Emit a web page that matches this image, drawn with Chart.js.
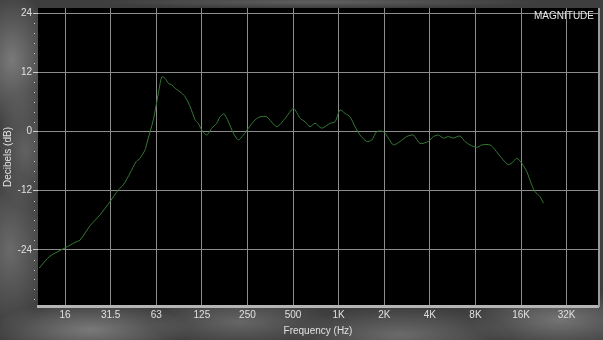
<!DOCTYPE html>
<html>
<head>
<meta charset="utf-8">
<script src="https://cdn.jsdelivr.net/npm/chart.js@4"></script>
<style>
  html, body { margin: 0; padding: 0; }
  body {
    width: 603px; height: 340px; overflow: hidden;
    background:
      radial-gradient(ellipse 40px 70px at 12px 60px, rgba(170,170,170,.55), transparent),
      radial-gradient(ellipse 30px 60px at 25px 150px, rgba(140,140,140,.45), transparent),
      radial-gradient(ellipse 40px 80px at 10px 250px, rgba(150,150,150,.5), transparent),
      radial-gradient(ellipse 100px 28px at 90px 330px, rgba(180,180,180,.5), transparent),
      radial-gradient(ellipse 90px 25px at 240px 322px, rgba(150,150,150,.45), transparent),
      radial-gradient(ellipse 110px 28px at 400px 335px, rgba(160,160,160,.45), transparent),
      radial-gradient(ellipse 90px 30px at 560px 320px, rgba(170,170,170,.5), transparent),
      radial-gradient(ellipse 220px 6px at 320px 2px, rgba(130,130,130,.5), transparent),
      #3e3e3e;
  }
</style>
</head>
<body>
<canvas id="response" width="603" height="340"></canvas>
<script>
// frequency response
const freqs = [10.8, 12.7, 16, 18.6, 20.1, 23.4, 27.2, 31.7, 36, 38.8, 43, 47.1, 50, 54, 55.4, 61.2,
  66.1, 69.6, 73.2, 76.9, 81, 85.2, 91.9, 99.2, 107, 115.5, 121, 127.8, 137.9, 148.7, 160.5, 168.8,
  179.4, 191.5, 206.6, 222.9, 240.6, 259.6, 287.5, 310, 343, 400, 454, 515, 570, 615, 663, 715, 792,
  899, 969, 1046, 1129, 1218, 1314, 1418, 1570, 1694, 1828, 2020, 2180, 2353, 2604, 2882, 3187, 3529,
  4003, 4323, 4662, 5031, 5428, 5853, 6481, 6992, 7548, 8357, 9011, 10226, 11035, 12220, 13507,
  14575, 15352, 16555, 17860, 19279, 20267, 21871, 23000];
const magnitude = [-27.7, -25.3, -23.6, -22.5, -22.0, -19.1, -16.9, -14.2, -11.8, -10.8, -8.4, -6.1,
  -5.4, -3.7, -2.4, 2.4, 7.8, 11.1, 10.8, 9.8, 9.5, 8.8, 8.1, 7.1, 5.1, 2.4, 1.7, 0.3, -0.7, 0.7, 1.7,
  3.0, 3.6, 2.0, -0.3, -1.7, -0.7, 0.7, 2.4, 3.0, 3.0, 1.0, 2.7, 4.7, 2.7, 2.0, 1.0, 1.7, 0.7, 1.7,
  2.0, 4.4, 3.7, 3.0, 1.0, -0.7, -2.0, -1.7, 0, 0, -1.3, -2.7, -2.0, -1.0, -0.7, -2.4, -2.0, -1.0,
  -0.7, -1.3, -1.0, -1.3, -0.9, -2.0, -2.7, -3.2, -2.7, -2.7, -3.7, -5.4, -6.7, -6.1, -5.4, -6.4,
  -8.1, -10.8, -12.2, -13.2, -14.5];

const freqTicks = [16, 32, 64, 128, 256, 512, 1024, 2048, 4096, 8192, 16384, 32768];
const freqLabels = ['16', '31.5', '63', '125', '250', '500', '1K', '2K', '4K', '8K', '16K', '32K'];
const dbTicks = [-24, -12, 0, 12, 24];

const FONT = 'Liberation Sans, Arial, sans-serif';

// black plot area, right border, minor dB marks and the corner caption
const frame = {
  id: 'frame',
  beforeDraw(chart) {
    const {ctx, chartArea: a} = chart;
    ctx.save();
    ctx.fillStyle = '#000';
    ctx.fillRect(a.left, a.top, a.right - a.left, a.bottom - a.top);
    ctx.restore();
  },
  afterDraw(chart) {
    const {ctx, chartArea: a} = chart;
    const y = chart.scales.y;
    ctx.save();
    ctx.strokeStyle = '#9a9a9a';
    ctx.lineWidth = 2;
    ctx.beginPath();
    ctx.moveTo(a.right + 1, a.top);
    ctx.lineTo(a.right + 1, a.bottom + 1);
    ctx.stroke();
    ctx.fillStyle = '#cfcfcf';
    for (let v = -34; v <= 24; v += 2) {
      if (v % 12 === 0) continue;
      const py = Math.round(y.getPixelForValue(v));
      ctx.fillRect(a.left - 4, py, 1, 1);
    }
    ctx.fillStyle = '#e6e6e6';
    ctx.font = '10px ' + FONT;
    ctx.textAlign = 'right';
    ctx.textBaseline = 'middle';
    ctx.fillText('MAGNITUDE', a.right - 4, 16);
    ctx.restore();
  }
};

const config = {
  type: 'line',
  data: {
    datasets: [{
      label: 'Magnitude',
      data: freqs.map((f, i) => ({x: f, y: magnitude[i]})),
      borderColor: '#357a35',
      borderWidth: 1,
      pointRadius: 0,
      tension: 0.25,
      fill: false
    }]
  },
  options: {
    responsive: false,
    animation: false,
    layout: {padding: {top: 8, right: 5, left: 0, bottom: 0}},
    plugins: {
      legend: {display: false},
      tooltip: {enabled: false}
    },
    scales: {
      x: {
        type: 'logarithmic',
        min: 10.6,
        max: 52800,
        afterBuildTicks: scale => { scale.ticks = freqTicks.map(v => ({value: v})); },
        afterFit: scale => { scale.height = 34; },
        ticks: {
          color: '#e0e0e0',
          font: {family: FONT, size: 10},
          padding: 3,
          autoSkip: false,
          maxRotation: 0,
          callback: (v, i) => freqLabels[i]
        },
        grid: {color: '#8c8c8c', lineWidth: 1, drawTicks: false},
        border: {color: '#b4b4b4', width: 3},
        title: {
          display: true,
          text: 'Frequency (Hz)',
          color: '#e0e0e0',
          font: {family: FONT, size: 10},
          padding: {top: 0, bottom: 3}
        }
      },
      y: {
        min: -35.4,
        max: 25.1,
        afterBuildTicks: scale => { scale.ticks = dbTicks.map(v => ({value: v})); },
        afterFit: scale => { scale.width = 38; },
        ticks: {
          color: '#e0e0e0',
          font: {family: FONT, size: 10},
          padding: 1
        },
        grid: {color: '#8c8c8c', lineWidth: 1, tickLength: 5, tickColor: '#cfcfcf'},
        border: {display: false},
        title: {
          display: true,
          text: 'Decibels (dB)',
          color: '#e0e0e0',
          font: {family: FONT, size: 10},
          padding: {top: 2, bottom: 0}
        }
      }
    }
  },
  plugins: [frame]
};

new Chart(document.getElementById('response'), config);
</script>
</body>
</html>
